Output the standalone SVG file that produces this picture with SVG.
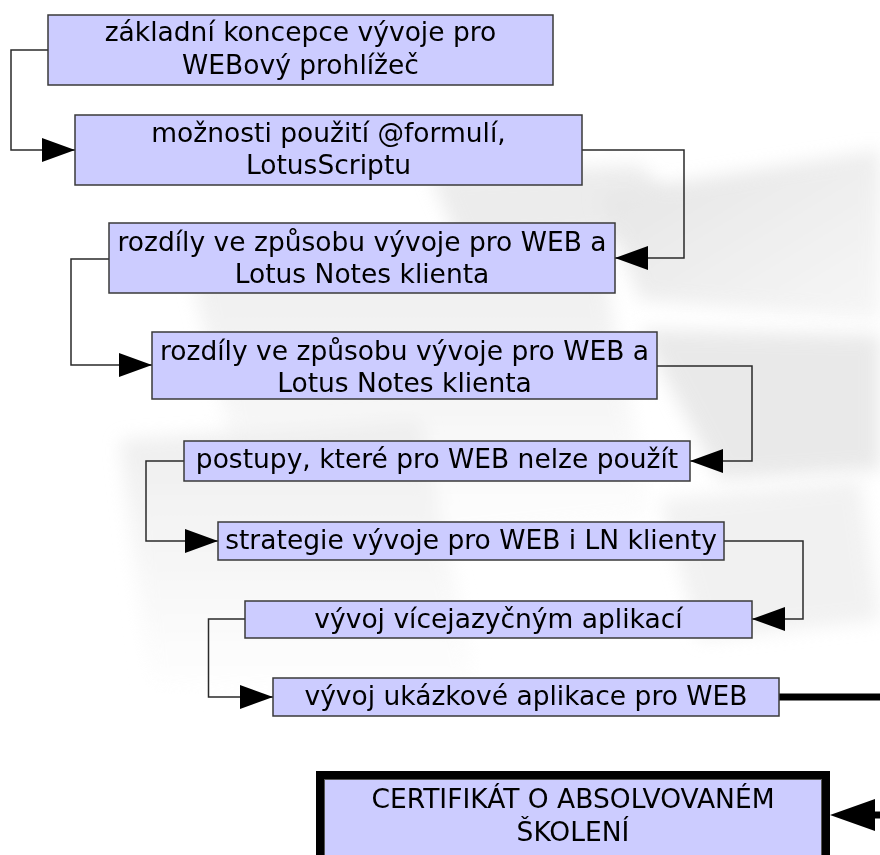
<svg xmlns="http://www.w3.org/2000/svg" width="880" height="855" viewBox="0 0 880 855">
<style>
.box{fill:#ccccff;stroke:#3a3a3a;stroke-width:1.5}
.t{font-family:"DejaVu Sans",Verdana,sans-serif;font-size:26.5px;fill:#000;text-anchor:middle}
.c{fill:none;stroke:#2a2a2a;stroke-width:1.5}
.bg{filter:url(#blur)}
</style>
<defs>
<marker id="arr" markerUnits="userSpaceOnUse" markerWidth="34" markerHeight="26" refX="33" refY="12" orient="auto" viewBox="0 0 34 26">
<path d="M0,0 L33,12 L0,24 z" fill="#000"/>
</marker>
<filter id="blur" x="-20%" y="-20%" width="140%" height="140%"><feGaussianBlur stdDeviation="9"/></filter>
<linearGradient id="g1" x1="0" y1="0" x2="1" y2="1"><stop offset="0" stop-color="#d6d6d6"/><stop offset="1" stop-color="#f2f2f2"/></linearGradient>
<linearGradient id="g2" x1="0" y1="0" x2="0" y2="1"><stop offset="0" stop-color="#e4e4e4"/><stop offset="1" stop-color="#ffffff"/></linearGradient>
</defs>
<rect width="880" height="855" fill="#fff"/>
<g id="background" opacity="0.65">
<polygon class="bg" points="430,175 640,165 700,230 460,245" fill="#e2e2e2"/>
<polygon class="bg" points="600,195 880,150 880,320 640,300" fill="url(#g1)"/>
<polygon class="bg" points="640,330 880,335 880,470 720,480" fill="#dedede"/>
<polygon class="bg" points="190,270 600,245 650,520 260,560" fill="url(#g2)"/>
<polygon class="bg" points="120,440 420,420 480,700 150,690" fill="url(#g2)"/>
<polygon class="bg" points="660,500 860,480 880,620 700,640" fill="#eaeaea"/>
</g>
<g id="connectors">
<path class="c" d="M48,50 H11 V150 H75" marker-end="url(#arr)"/>
<path class="c" d="M582,150 H684 V258 H615" marker-end="url(#arr)"/>
<path class="c" d="M109,259 H71 V365 H152" marker-end="url(#arr)"/>
<path class="c" d="M657,366 H752 V461 H690" marker-end="url(#arr)"/>
<path class="c" d="M184,461 H146 V541 H218" marker-end="url(#arr)"/>
<path class="c" d="M724,541 H803 V619 H752" marker-end="url(#arr)"/>
<path class="c" d="M245,619 H208.5 V697 H273" marker-end="url(#arr)"/>
<path d="M779,697 H890" fill="none" stroke="#000" stroke-width="7"/>
<path d="M872,815 H890" fill="none" stroke="#000" stroke-width="7"/>
<polygon points="830,815 875,799 875,831" fill="#000"/>
</g>
<g id="n1"><rect class="box" x="48" y="15" width="505" height="70"/><text class="t" x="300.5" y="41">základní koncepce vývoje pro</text><text class="t" x="300.5" y="74">WEBový prohlížeč</text></g>
<g id="n2"><rect class="box" x="75" y="115" width="507" height="70"/><text class="t" x="328.5" y="142">možnosti použití @formulí,</text><text class="t" x="328.5" y="174">LotusScriptu</text></g>
<g id="n3"><rect class="box" x="109" y="223" width="506" height="70"/><text class="t" x="362" y="251">rozdíly ve způsobu vývoje pro WEB a</text><text class="t" x="362" y="283">Lotus Notes klienta</text></g>
<g id="n4"><rect class="box" x="152" y="332" width="505" height="67"/><text class="t" x="404.5" y="360">rozdíly ve způsobu vývoje pro WEB a</text><text class="t" x="404.5" y="392">Lotus Notes klienta</text></g>
<g id="n5"><rect class="box" x="184" y="441" width="506" height="40"/><text class="t" x="437" y="468">postupy, které pro WEB nelze použít</text></g>
<g id="n6"><rect class="box" x="218" y="522" width="506" height="38"/><text class="t" x="471" y="549">strategie vývoje pro WEB i LN klienty</text></g>
<g id="n7"><rect class="box" x="245" y="601" width="507" height="37"/><text class="t" x="498.5" y="628">vývoj vícejazyčným aplikací</text></g>
<g id="n8"><rect class="box" x="273" y="678" width="506" height="38"/><text class="t" x="526" y="705">vývoj ukázkové aplikace pro WEB</text></g>
<g id="n9"><rect x="320" y="775" width="506" height="100" fill="#ccccff" stroke="#000" stroke-width="8"/><rect x="324.5" y="779.5" width="497" height="95" fill="none" stroke="#555" stroke-width="1"/><text class="t" x="573" y="808">CERTIFIKÁT O ABSOLVOVANÉM</text><text class="t" x="573" y="841">ŠKOLENÍ</text></g>
</svg>
